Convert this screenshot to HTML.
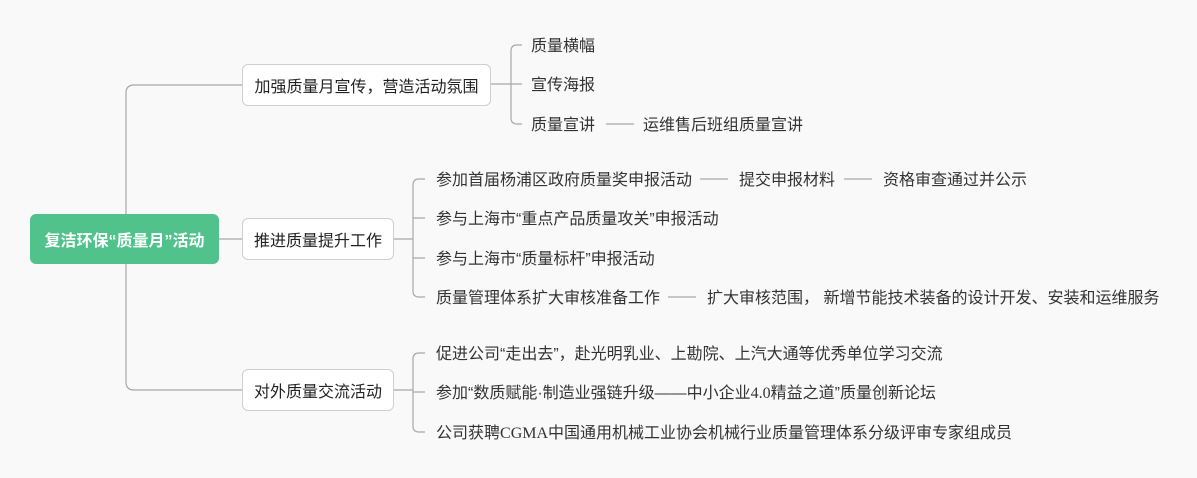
<!DOCTYPE html>
<html><head><meta charset="utf-8"><style>
html,body{margin:0;padding:0}
body{width:1197px;height:478px;background:#f9f9f9;position:relative;overflow:hidden;font-family:"Liberation Sans","Noto Sans CJK SC",sans-serif;}
.t{position:absolute;font-size:16px;color:#333;white-space:nowrap;line-height:20px;}
.b{position:absolute;background:#fff;border:1px solid #cfcfcf;border-radius:6px;box-sizing:border-box;font-size:16px;color:#222;display:flex;align-items:center;justify-content:center;white-space:nowrap}
.s{font-family:"Liberation Serif",serif}
svg{position:absolute;left:0;top:0}
</style></head><body>
<svg width="1197" height="478" fill="none" stroke="#a8a8a8" stroke-width="1.2">
<path d="M242 85 H134 Q126 85 126 93 V382 Q126 390 134 390 H242"/>
<path d="M219 239 H242"/>
<path d="M491 84 H511"/>
<path d="M522 45 H517 Q511 45 511 51 V118 Q511 124 517 124 H522 M511 84 H522"/>
<path d="M606 124 H634"/>
<path d="M394 239 H413"/>
<path d="M425 179 H419 Q413 179 413 185 V291 Q413 297 419 297 H425 M413 218 H425 M413 258 H425"/>
<path d="M700 179 H728 M844 179 H872 M668 297 H696"/>
<path d="M394 390 H413"/>
<path d="M425 353 H419 Q413 353 413 359 V426 Q413 432 419 432 H425 M413 392 H425"/>
</svg>
<div class="b" style="left:30px;top:214px;width:189px;height:50px;background:#52c28d;border:none;color:#fff;font-weight:bold;font-size:16px">复洁环保“质量月”活动</div>
<div class="b" style="left:242px;top:64px;width:249px;height:42px">加强质量月宣传，营造活动氛围</div>
<div class="b" style="left:242px;top:218px;width:152px;height:42px">推进质量提升工作</div>
<div class="b" style="left:242px;top:369px;width:152px;height:42px">对外质量交流活动</div>
<div class="t" style="left:531px;top:37px">质量横幅</div>
<div class="t" style="left:531px;top:76px">宣传海报</div>
<div class="t" style="left:531px;top:116px">质量宣讲</div>
<div class="t" style="left:643px;top:116px">运维售后班组质量宣讲</div>
<div class="t" style="left:436px;top:171px">参加首届杨浦区政府质量奖申报活动</div>
<div class="t" style="left:739px;top:171px">提交申报材料</div>
<div class="t" style="left:883px;top:171px">资格审查通过并公示</div>
<div class="t" style="left:436px;top:210px">参与上海市“重点产品质量攻关”申报活动</div>
<div class="t" style="left:436px;top:250px">参与上海市“质量标杆”申报活动</div>
<div class="t" style="left:436px;top:289px">质量管理体系扩大审核准备工作</div>
<div class="t" style="left:707px;top:289px">扩大审核范围， 新增节能技术装备的设计开发、安装和运维服务</div>
<div class="t" style="left:436px;top:345px">促进公司“走出去”，赴光明乳业、上勘院、上汽大通等优秀单位学习交流</div>
<div class="t" style="left:436px;top:384px">参加“数质赋能·制造业强链升级——中小企业<span class="s">4.0</span>精益之道”质量创新论坛</div>
<div class="t" style="left:436px;top:424px">公司获聘<span class="s">CGMA</span>中国通用机械工业协会机械行业质量管理体系分级评审专家组成员</div>
</body></html>
